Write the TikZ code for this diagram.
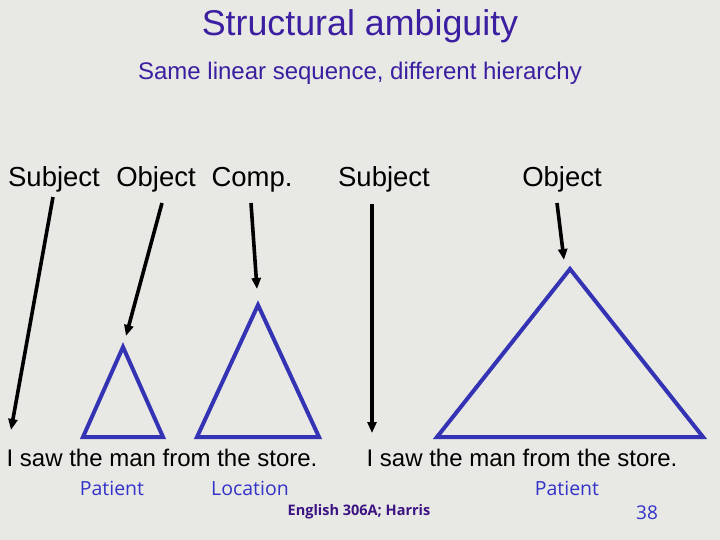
\documentclass[tikz,border=0pt]{standalone}
\usepackage{fontspec}
\setmainfont{Liberation Sans}
\newfontfamily\labfont{Open Sans}
\usetikzlibrary{arrows.meta}
\definecolor{bgc}{RGB}{232,232,229}
\definecolor{titlec}{RGB}{60,30,160}
\definecolor{triblue}{RGB}{51,51,180}
\definecolor{labblue}{RGB}{51,51,200}
\definecolor{footc}{RGB}{60,20,130}
\tikzset{
  word/.style={inner sep=0pt, anchor=base, font=\fontsize{27.5}{30}\selectfont},
  sentence/.style={inner sep=0pt, anchor=base, font=\fontsize{24}{28}\selectfont},
  role/.style={inner sep=0pt, anchor=base, text=labblue, font=\labfont\fontsize{19.5}{22}\selectfont},
  tri/.style={draw=triblue, line width=4pt, line join=miter},
  pointer/.style={draw=black, line width=3.6pt, -{Triangle[length=11pt,width=9pt]}}
}
\begin{document}
\begin{tikzpicture}[x=1pt,y=-1pt]
\fill[bgc] (0,0) rectangle (720,540);
\useasboundingbox (0,0) rectangle (720,540);

\node[inner sep=0pt, anchor=base, text=titlec, font=\fontsize{35.8}{40}\selectfont] (title) at (360,36) {Structural ambiguity};
\node[inner sep=0pt, anchor=base, text=titlec, font=\fontsize{24}{28}\selectfont] (sub) at (360,80) {Same linear sequence, different hierarchy};

\node[word] (subj1) at (54,187) {Subject};
\node[word] (obj1) at (156,187) {Object};
\node[word] (comp1) at (252,187) {Comp.};
\node[word] (subj2) at (384,187) {Subject};
\node[word] (obj2) at (562,187) {Object};

\node[sentence] (s1) at (162,466) {I saw the man from the store.};
\node[sentence] (s2) at (522,466) {I saw the man from the store.};

\node[role] (pat1) at (112,495) {Patient};
\node[role] (loc1) at (250,495) {Location};
\node[role] (pat2) at (567,495) {Patient};

\node[inner sep=0pt, anchor=base, text=footc, font=\labfont\bfseries\fontsize{14.5}{16}\selectfont] (foot) at (359,515) {English 306A; Harris};
\node[inner sep=0pt, anchor=base, text=labblue, font=\labfont\fontsize{19}{22}\selectfont] (pg) at (647,519) {38};

% triangles
\coordinate (t1a) at (123,347); \coordinate (t1l) at (83,437); \coordinate (t1r) at (163,437);
\coordinate (t2a) at (258,305); \coordinate (t2l) at (197,437); \coordinate (t2r) at (319,437);
\coordinate (t3a) at (570,269); \coordinate (t3l) at (437,437); \coordinate (t3r) at (703,437);
\draw[tri] (t1a) -- (t1l) -- (t1r) -- cycle;
\draw[tri] (t2a) -- (t2l) -- (t2r) -- cycle;
\draw[tri] (t3a) -- (t3l) -- (t3r) -- cycle;

% arrows
\coordinate (a1s) at (53,197);  \coordinate (a1e) at (11,430);
\coordinate (a2s) at (162,203); \coordinate (a2e) at (126,336);
\coordinate (a3s) at (251,203); \coordinate (a3e) at (257,289);
\coordinate (a4s) at (372,204); \coordinate (a4e) at (372,433);
\coordinate (a5s) at (557,203); \coordinate (a5e) at (564,260);
\draw[pointer] (a1s) -- (a1e);
\draw[pointer] (a2s) -- (a2e);
\draw[pointer] (a3s) -- (a3e);
\draw[pointer] (a4s) -- (a4e);
\draw[pointer] (a5s) -- (a5e);
\end{tikzpicture}
\end{document}
